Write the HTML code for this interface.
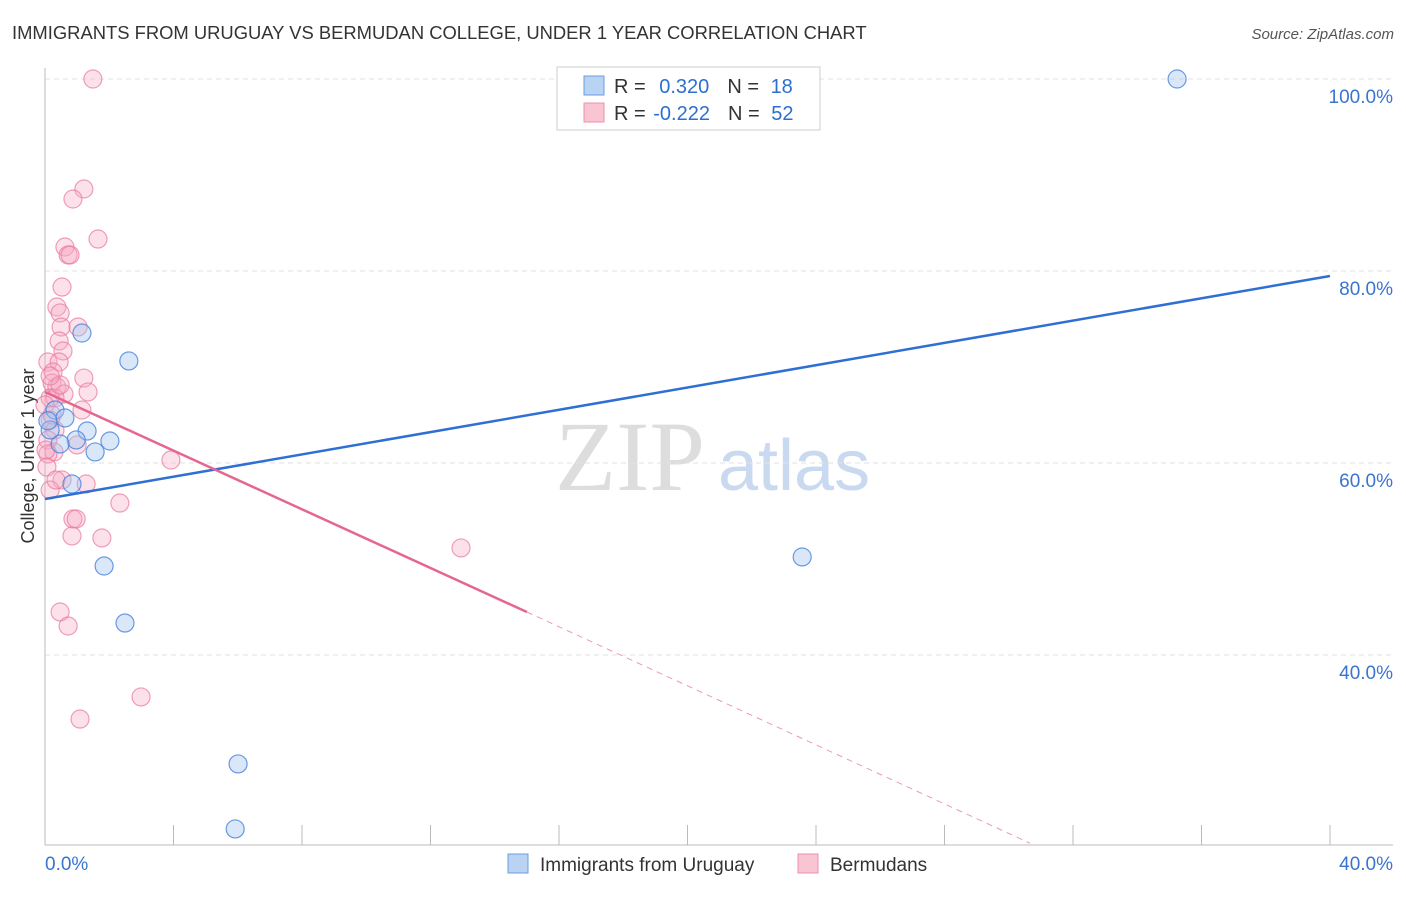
<!DOCTYPE html>
<html><head><meta charset="utf-8"><style>
body{margin:0;background:#fff;font-family:"Liberation Sans",sans-serif}
</style></head><body>
<svg id="c" width="1406" height="892" xmlns="http://www.w3.org/2000/svg" font-family="Liberation Sans, sans-serif">
<text x="12" y="39" font-size="18.4" fill="#333">IMMIGRANTS FROM URUGUAY VS BERMUDAN COLLEGE, UNDER 1 YEAR CORRELATION CHART</text>
<text x="1394" y="39" font-size="15" fill="#555" font-style="italic" text-anchor="end">Source: ZipAtlas.com</text>
<text x="555" y="490" font-size="100" fill="#ddd" font-family="Liberation Serif, serif">ZIP</text>
<text x="718" y="490" font-size="72" fill="#c9d9ef">atlas</text>
<text transform="translate(34,456) rotate(-90)" font-size="18" fill="#333" text-anchor="middle">College, Under 1 year</text>
<g id="grid"></g><g id="pts"></g><g id="trend"></g>
<rect x="557" y="67" width="263" height="63" fill="#fff" stroke="#ccc"/>
<rect x="584" y="76" width="20" height="19" fill="#b9d3f3" stroke="#6a9be0"/>
<rect x="584" y="103" width="20" height="19" fill="#f9c5d3" stroke="#ec8fac"/>
<text x="614" y="93" font-size="20" fill="#333">R = <tspan fill="#2d6fd0" dx="8">0.320</tspan><tspan dx="18" fill="#333">N = </tspan><tspan fill="#2d6fd0" dx="6">18</tspan></text>
<text x="614" y="120" font-size="20" fill="#333">R = <tspan fill="#2d6fd0" dx="2">-0.222</tspan><tspan dx="18" fill="#333">N = </tspan><tspan fill="#2d6fd0" dx="6">52</tspan></text>
<rect x="508" y="854" width="20" height="19" fill="#b9d3f3" stroke="#6a9be0"/>
<text x="540" y="871" font-size="19" fill="#333">Immigrants from Uruguay</text>
<rect x="798" y="854" width="20" height="19" fill="#f9c5d3" stroke="#ec8fac"/>
<text x="830" y="871" font-size="19" fill="#333">Bermudans</text>
</svg>
<script>
const blueX=[35.24,1.15,2.61,0.31,0.62,1.31,0.97,0.47,2.02,1.56,0.84,1.84,2.49,23.57,6.01,5.92,0.16,0.09];
const blueY=[100,73.54,70.63,65.52,64.69,63.33,62.40,61.98,62.29,61.15,57.81,49.27,43.33,50.21,28.65,21.88,63.44,64.4];
const pinkX=[1.49,1.21,0.87,1.65,0.62,0.72,0.78,0.53,0.37,0.47,0.50,1.03,0.44,0.56,0.09,0.44,0.25,1.21,0.22,0.37,1.34,0.59,0.16,0.31,1.15,0.16,0.31,0.09,1.00,0.28,0.09,3.92,0.53,1.28,0.16,2.33,0.87,0.97,0.84,1.77,12.95,0.47,0.72,2.99,1.09,0.0,0.22,0.47,0.16,0.03,0.06,0.34];
const pinkY=[100,88.54,87.50,83.33,82.50,81.67,81.67,78.33,76.25,75.63,74.17,74.17,72.71,71.67,70.52,70.52,69.48,68.85,68.33,67.92,67.40,67.19,66.77,66.77,65.52,64.48,63.44,62.40,61.88,61.15,60.94,60.31,58.23,57.81,57.19,55.83,54.17,54.17,52.40,52.19,51.15,44.48,43.02,35.63,33.33,66.04,65.0,68.13,69.06,61.35,59.58,58.23];
const blueTrend=[56.25,79.48];
const pinkTrend=[67.40,44.48,15.0];
const pinkDashEnd=[30.66,20.4];
const yTicks=[40,60,80,100];
const yTickLabels=["40.0%","60.0%","80.0%","100.0%"];
const xTicks=[0,4,8,12,16,20,24,28,32,36,40];
const xTickLabels=["0.0%","40.0%"];
const NS="http://www.w3.org/2000/svg";
const X=v=>45+v*1285/40, Y=v=>79+(100-v)*192/20;
function mk(t,a,p){const e=document.createElementNS(NS,t);for(const k in a)e.setAttribute(k,a[k]);p.appendChild(e);return e;}
const g=document.getElementById('grid');
yTicks.forEach((t,i)=>{
 const l=mk('line',{x1:45,x2:1393,y1:Y(t),y2:Y(t),stroke:'#e2e2e2','stroke-dasharray':'5,4'},g);
 
 
 const tx=mk('text',{x:1393,y:Y(t)+24,'font-size':19,fill:'#3a74d0','text-anchor':'end'},g);tx.textContent=yTickLabels[i];
 
 
});
const ax=mk('line',{x1:45,x2:45,y1:68,y2:845,stroke:'#bbb'},g);


const bx=mk('line',{x1:45,x2:1393,y1:845,y2:845,stroke:'#bbb'},g);


xTicks.forEach(t=>{const l=mk('line',{x1:X(t),x2:X(t),y1:825,y2:845,stroke:'#bbb'},g);
 
 });
const xl0=mk('text',{x:45,y:870,'font-size':19,fill:'#3a74d0'},g);xl0.textContent=xTickLabels[0];


const xl1=mk('text',{x:1393,y:870,'font-size':19,fill:'#3a74d0','text-anchor':'end'},g);xl1.textContent=xTickLabels[1];


const p=document.getElementById('pts');
pinkX.forEach((v,i)=>{const c=mk('circle',{cx:X(v),cy:Y(pinkY[i]),r:9,fill:'rgba(246,170,195,0.35)',stroke:'rgba(232,120,158,0.7)','stroke-width':1.2},p);
 
 });
blueX.forEach((v,i)=>{const c=mk('circle',{cx:X(v),cy:Y(blueY[i]),r:9,fill:'rgba(160,195,240,0.4)',stroke:'rgba(70,130,220,0.8)','stroke-width':1.2},p);
 
 });
const tr=document.getElementById('trend');
const b=mk('line',{x1:X(0),y1:Y(blueTrend[0]),x2:X(40),y2:Y(blueTrend[1]),stroke:'#2f6fd3','stroke-width':2.5},tr);


const pk=mk('line',{x1:X(0),y1:Y(pinkTrend[0]),x2:X(pinkTrend[2]),y2:Y(pinkTrend[1]),stroke:'#e5678f','stroke-width':2.5},tr);


const pd=mk('line',{x1:X(pinkTrend[2]),y1:Y(pinkTrend[1]),x2:X(pinkDashEnd[0]),y2:Y(pinkDashEnd[1]),stroke:'#ec9ab4','stroke-width':1,'stroke-dasharray':'6,5'},tr);


</script>
</body></html>
